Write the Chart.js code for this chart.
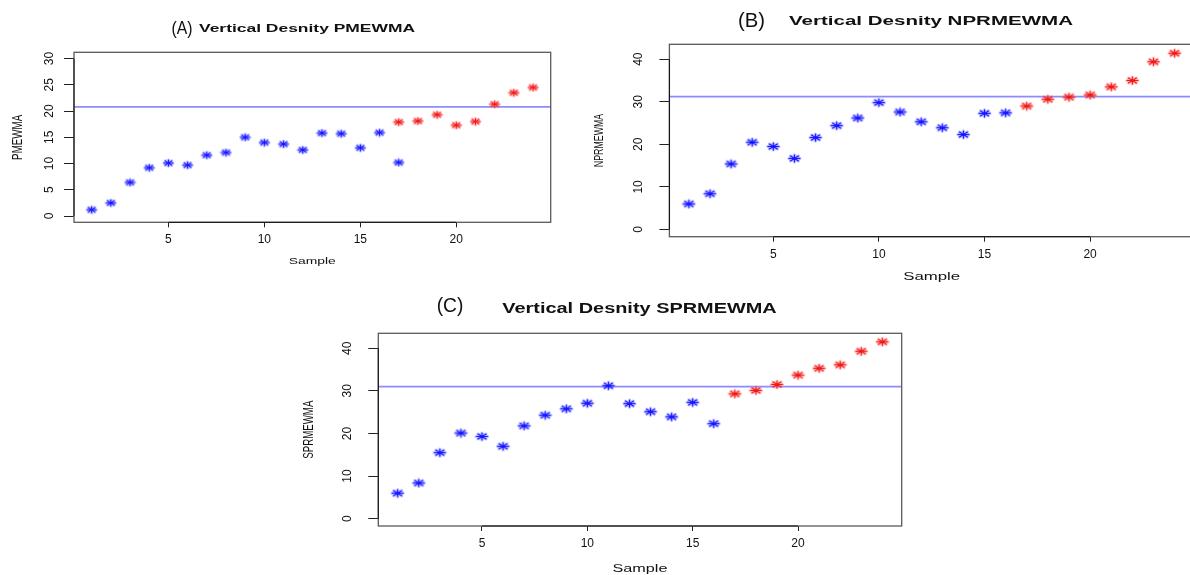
<!DOCTYPE html>
<html>
<head>
<meta charset="utf-8">
<script src="https://cdn.jsdelivr.net/npm/chart.js@4.4.1/dist/chart.umd.min.js"></script>
<style>
  html, body { margin: 0; padding: 0; background: #fff; }
  body { position: relative; width: 1190px; height: 575px; overflow: hidden; }
  canvas { position: absolute; }
  #panelA { left: 0; top: 0; }
  #panelB { left: 585px; top: 0; }
  #panelC { left: 290px; top: 285px; }
</style>
</head>
<body>
<canvas id="panelA" width="570" height="285"></canvas>
<canvas id="panelB" width="620" height="295"></canvas>
<canvas id="panelC" width="630" height="290"></canvas>
<script>
"use strict";

// sample index and axis ticks
const samples = [1, 2, 3, 4, 5, 6, 7, 8, 9, 10, 11, 12, 13, 14, 15, 16, 17, 18, 19, 20, 21, 22, 23, 24];
const xTicks = [5, 10, 15, 20];
const yTicksA = [0, 5, 10, 15, 20, 25, 30];
const yTicksBC = [0, 10, 20, 30, 40];

// (A) PMEWMA: blue up to sample 17, red from sample 17 on
const pmewmaIn = [1.2, 2.5, 6.4, 9.2, 10.1, 9.7, 11.6, 12.1, 15.0, 14.0, 13.7, 12.6, 15.8, 15.7, 13.0, 15.9, 10.2];
const pmewmaOut = [17.9, 18.1, 19.3, 17.3, 18.0, 21.3, 23.5, 24.5];
const pmewmaLimit = 20.8;

// (B) NPRMEWMA
const nprmewmaIn = [6.0, 8.4, 15.4, 20.5, 19.5, 16.7, 21.6, 24.4, 26.2, 29.8, 27.6, 25.3, 23.9, 22.3, 27.3, 27.4];
const nprmewmaOut = [29.0, 30.6, 31.1, 31.6, 33.5, 35.0, 39.4, 41.4];
const nprmewmaLimit = 31.2;

// (C) SPRMEWMA
const sprmewmaIn = [6.0, 8.4, 15.5, 20.1, 19.3, 17.0, 21.8, 24.3, 25.8, 27.1, 31.2, 27.0, 25.1, 23.9, 27.3, 22.3];
const sprmewmaOut = [29.3, 30.1, 31.5, 33.7, 35.3, 36.1, 39.3, 41.5];
const sprmewmaLimit = 31.0;

const xMin = 0.08, xMax = 24.92;
const FONT = "'Liberation Sans', Arial, Helvetica, sans-serif";

function toPoints(xs, ys) {
    return ys.map((v, i) => ({ x: xs[i], y: v }));
}

// asterisk marker (pch 8 look), a little wider than tall
function starMarker(core, halo, w, h) {
    const c = document.createElement("canvas");
    c.width = w + 4;
    c.height = h + 4;
    const g = c.getContext("2d");
    const cx = c.width / 2, cy = c.height / 2, rx = w / 2, ry = h / 2;
    const strokes = () => {
        g.beginPath();
        g.moveTo(cx - rx, cy); g.lineTo(cx + rx, cy);
        g.moveTo(cx, cy - ry); g.lineTo(cx, cy + ry);
        g.moveTo(cx - rx * 0.72, cy - ry * 0.72); g.lineTo(cx + rx * 0.72, cy + ry * 0.72);
        g.moveTo(cx - rx * 0.72, cy + ry * 0.72); g.lineTo(cx + rx * 0.72, cy - ry * 0.72);
        g.stroke();
    };
    g.lineCap = "round";
    g.strokeStyle = halo; g.lineWidth = 3; strokes();
    g.strokeStyle = core; g.lineWidth = 1.1; strokes();
    return c;
}

function drawText(ctx, t) {
    ctx.save();
    ctx.font = t.font;
    ctx.fillStyle = t.color || "#111";
    ctx.textAlign = "center";
    ctx.textBaseline = "middle";
    const sx = t.width ? t.width / ctx.measureText(t.text).width : (t.sx || 1);
    ctx.translate(t.cx, t.cy);
    ctx.scale(sx, 1);
    if (t.rot) ctx.rotate(t.rot);
    ctx.fillText(t.text, 0, 0);
    ctx.restore();
}

// box, axis segments and the panel texts
const panelDecor = {
    id: "panelDecor",
    afterDraw(chart, args, opts) {
        const { ctx, chartArea: a, scales: { x, y } } = chart;
        ctx.save();
        ctx.strokeStyle = "#5a5a5a";
        ctx.lineWidth = 1.3;
        ctx.strokeRect(a.left, a.top, a.right - a.left, a.bottom - a.top);
        ctx.strokeStyle = "#111";
        ctx.lineWidth = 1;
        ctx.beginPath();
        ctx.moveTo(a.left, y.getPixelForValue(y.ticks[0].value));
        ctx.lineTo(a.left, y.getPixelForValue(y.ticks[y.ticks.length - 1].value));
        ctx.moveTo(x.getPixelForValue(x.ticks[0].value), a.bottom);
        ctx.lineTo(x.getPixelForValue(x.ticks[x.ticks.length - 1].value), a.bottom);
        ctx.stroke();
        ctx.restore();
        (opts.texts || []).forEach(t => drawText(ctx, t));
    }
};

function panel(id, cfg) {
    const ctx = document.getElementById(id).getContext("2d");
    const inX = samples.slice(0, cfg.inVals.length);
    const outX = samples.slice(samples.length - cfg.outVals.length);
    return new Chart(ctx, {
        type: "scatter",
        data: {
            datasets: [
                {
                    data: toPoints(inX, cfg.inVals),
                    pointStyle: starMarker("#1515ff", "rgba(110,110,255,0.5)", cfg.mw, cfg.mh),
                    pointRadius: 5,
                    order: 1
                },
                {
                    data: toPoints(outX, cfg.outVals),
                    pointStyle: starMarker("#ee1818", "rgba(255,110,110,0.5)", cfg.mw, cfg.mh),
                    pointRadius: 5,
                    order: 1
                },
                {
                    type: "line",
                    data: [{ x: xMin, y: cfg.limit }, { x: xMax, y: cfg.limit }],
                    showLine: true,
                    borderColor: "rgba(120,120,255,0.85)",
                    borderWidth: 1.8,
                    pointRadius: 0,
                    order: 2
                }
            ]
        },
        options: {
            responsive: false,
            animation: false,
            devicePixelRatio: 1,
            layout: { padding: cfg.padding },
            plugins: {
                legend: { display: false },
                tooltip: { enabled: false },
                panelDecor: { texts: cfg.texts }
            },
            scales: {
                x: {
                    type: "linear",
                    min: xMin,
                    max: xMax,
                    bounds: "data",
                    afterBuildTicks: s => { s.ticks = xTicks.map(v => ({ value: v })); },
                    afterFit: s => { s.height = 40; },
                    grid: { drawOnChartArea: false, tickLength: 5, color: "#222" },
                    border: { display: false },
                    ticks: { font: { family: FONT, size: 12 }, color: "#111", padding: 5.5, maxRotation: 0, autoSkip: false }
                },
                y: {
                    type: "linear",
                    min: cfg.yMin,
                    max: cfg.yMax,
                    bounds: "data",
                    afterBuildTicks: s => { s.ticks = cfg.yTicks.map(v => ({ value: v })); },
                    afterFit: s => { s.width = cfg.yWidth; },
                    grid: { drawOnChartArea: false, tickLength: 10, color: "#222" },
                    border: { display: false },
                    ticks: {
                        minRotation: 90, maxRotation: 90, crossAlign: "center",
                        padding: cfg.yTickPad, autoSkip: false,
                        font: { family: FONT, size: 12 }, color: "#111"
                    }
                }
            }
        },
        plugins: [panelDecor]
    });
}

panel("panelA", {
    inVals: pmewmaIn, outVals: pmewmaOut, limit: pmewmaLimit,
    yMin: -1.2, yMax: 31.2, yTicks: yTicksA,
    yWidth: 74, yTickPad: 7.4, mw: 9, mh: 6,
    padding: { left: 0, top: 52.3, right: 19.3, bottom: 22.7 },
    texts: [
        { text: "(A)", font: "18px " + FONT, cx: 182, cy: 29.5, width: 21 },
        { text: "Vertical Desnity PMEWMA", font: "bold 11.6px " + FONT, cx: 307, cy: 29.2, width: 216 },
        { text: "PMEWMA", font: "9.8px " + FONT, cx: 17.8, cy: 137.3, sx: 1.5, rot: -Math.PI / 2 },
        { text: "Sample", font: "9.8px " + FONT, cx: 312.3, cy: 261.3, width: 47 }
    ]
});

panel("panelB", {
    inVals: nprmewmaIn, outVals: nprmewmaOut, limit: nprmewmaLimit,
    yMin: -1.7, yMax: 43.5, yTicks: yTicksBC,
    yWidth: 84.4, yTickPad: 14.4, mw: 11, mh: 7,
    padding: { left: 0, top: 44.3, right: 11, bottom: 18.3 },
    texts: [
        { text: "(B)", font: "21px " + FONT, cx: 166.5, cy: 20.8, width: 27 },
        { text: "Vertical Desnity NPRMEWMA", font: "bold 13.5px " + FONT, cx: 346, cy: 20.8, width: 284 },
        { text: "NPRMEWMA", font: "8.8px " + FONT, cx: 14.7, cy: 140.5, sx: 1.55, rot: -Math.PI / 2 },
        { text: "Sample", font: "10px " + FONT, cx: 346.7, cy: 277, width: 57 }
    ]
});

panel("panelC", {
    inVals: sprmewmaIn, outVals: sprmewmaOut, limit: sprmewmaLimit,
    yMin: -1.7, yMax: 43.5, yTicks: yTicksBC,
    yWidth: 88.3, yTickPad: 13.6, mw: 11, mh: 7,
    padding: { left: 0, top: 48.3, right: 18.3, bottom: 9 },
    texts: [
        { text: "(C)", font: "21px " + FONT, cx: 160, cy: 21.3, width: 26.7 },
        { text: "Vertical Desnity SPRMEWMA", font: "bold 14px " + FONT, cx: 349.5, cy: 24, width: 274.4 },
        { text: "SPRMEWMA", font: "9.7px " + FONT, cx: 19, cy: 144.7, sx: 1.55, rot: -Math.PI / 2 },
        { text: "Sample", font: "10px " + FONT, cx: 350, cy: 284.5, width: 55 }
    ]
});
</script>
</body>
</html>
